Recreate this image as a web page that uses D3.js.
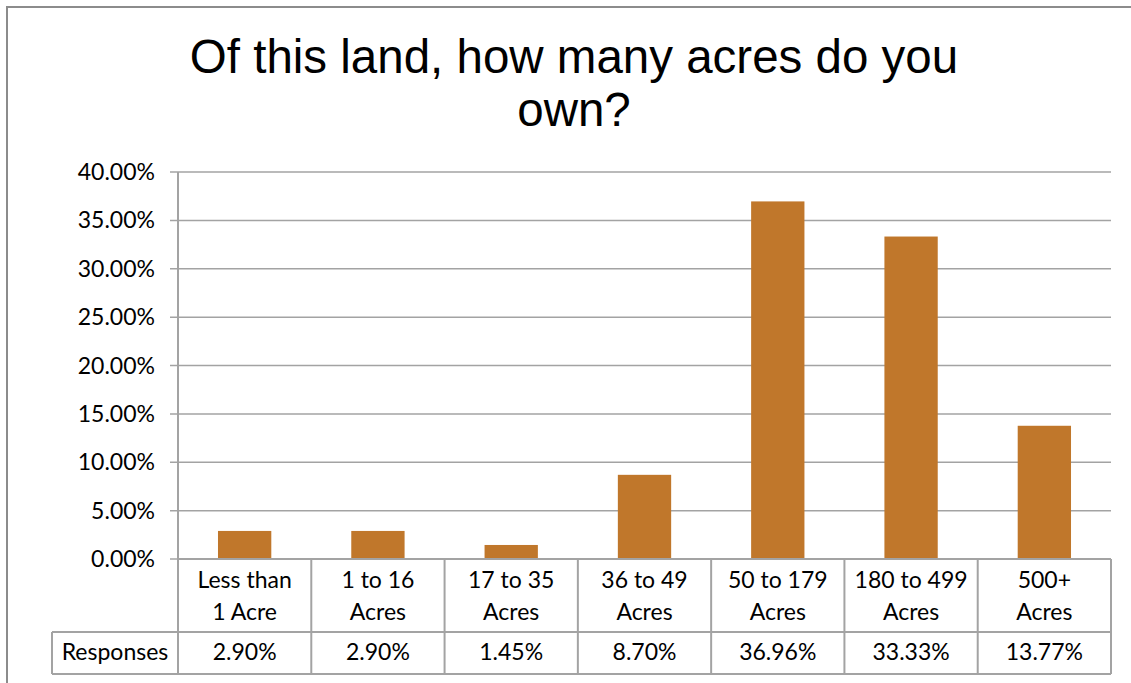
<!DOCTYPE html>
<html>
<head>
<meta charset="utf-8">
<script src="https://cdn.jsdelivr.net/npm/d3@7"></script>
<style>
  body { margin: 0; background: #fff; }
  svg { display: block; }
</style>
</head>
<body>
<div id="chart"></div>
<script>
// donnees
var title = ["Of this land, how many acres do you", "own?"];
var categories = [
  ["Less than", "1 Acre"],
  ["1 to 16", "Acres"],
  ["17 to 35", "Acres"],
  ["36 to 49", "Acres"],
  ["50 to 179", "Acres"],
  ["180 to 499", "Acres"],
  ["500+", "Acres"]
];
var responses = [2.90, 2.90, 1.45, 8.70, 36.96, 33.33, 13.77];
var seriesName = "Responses";
var yTicks = [0, 5, 10, 15, 20, 25, 30, 35, 40];

var width = 1131, height = 683;
var plotLeft = 178, plotRight = 1111, plotTop = 172, plotBottom = 559;
var row1 = 632, row2 = 674, labelLeft = 52;
var gridColor = "#a3a3a3", barColor = "#c0772b";
var font = "Lato, 'Open Sans', sans-serif";
var fontSize = 23;

var svg = d3.select("#chart").append("svg")
  .attr("width", width)
  .attr("height", height);

// cadre exterieur
svg.append("path")
  .attr("d", "M7," + height + " L7,7 L" + width + ",7")
  .attr("fill", "none")
  .attr("stroke", "#8c8c8c")
  .attr("stroke-width", 2);

// titre
svg.append("text")
  .attr("font-family", "'Liberation Sans', Arial, sans-serif")
  .attr("font-size", 47.5)
  .attr("text-anchor", "middle")
  .attr("fill", "#000")
  .selectAll("tspan").data(title).join("tspan")
    .attr("x", 574)
    .attr("y", (d, i) => 73 + i * 53)
    .text(d => d);

var x = d3.scaleBand()
  .domain(d3.range(categories.length))
  .range([plotLeft, plotRight])
  .paddingInner(0.6)
  .paddingOuter(0.3);
var xCell = d3.scaleBand()
  .domain(d3.range(categories.length))
  .range([plotLeft, plotRight]);
var y = d3.scaleLinear().domain([0, 40]).range([plotBottom, plotTop]);

// grille + etiquettes de l'axe
svg.append("g").selectAll("line").data(yTicks).join("line")
  .attr("x1", plotLeft - 8)
  .attr("x2", plotRight)
  .attr("y1", d => y(d))
  .attr("y2", d => y(d))
  .attr("stroke", gridColor)
  .attr("stroke-width", 1.5);

svg.append("g").selectAll("text").data(yTicks).join("text")
  .attr("font-family", font)
  .attr("font-size", fontSize)
  .attr("text-anchor", "end")
  .attr("fill", "#000")
  .attr("x", 155)
  .attr("y", d => y(d) + 8)
  .text(d => d.toFixed(2) + "%");

// barres
svg.append("g").selectAll("rect").data(responses).join("rect")
  .attr("x", (d, i) => x(i))
  .attr("width", x.bandwidth())
  .attr("y", d => y(d))
  .attr("height", d => plotBottom - y(d))
  .attr("fill", barColor);

// axe vertical
svg.append("line")
  .attr("x1", plotLeft).attr("x2", plotLeft)
  .attr("y1", plotTop).attr("y2", row2)
  .attr("stroke", gridColor)
  .attr("stroke-width", 2);

// tableau de donnees
var table = svg.append("g")
  .attr("fill", "none")
  .attr("stroke", gridColor)
  .attr("stroke-width", 2);
table.append("line").attr("x1", plotLeft).attr("x2", plotRight).attr("y1", plotBottom).attr("y2", plotBottom);
table.append("line").attr("x1", labelLeft).attr("x2", plotRight).attr("y1", row1).attr("y2", row1);
table.append("line").attr("x1", labelLeft).attr("x2", plotRight).attr("y1", row2).attr("y2", row2);
table.append("line").attr("x1", labelLeft).attr("x2", labelLeft).attr("y1", row1).attr("y2", row2);
table.selectAll(".sep").data(d3.range(categories.length)).join("line")
  .attr("class", "sep")
  .attr("x1", i => xCell(i) + xCell.bandwidth())
  .attr("x2", i => xCell(i) + xCell.bandwidth())
  .attr("y1", plotBottom)
  .attr("y2", row2);

svg.append("g").selectAll("text").data(categories).join("text")
  .attr("font-family", font)
  .attr("font-size", fontSize)
  .attr("text-anchor", "middle")
  .attr("fill", "#000")
  .each(function (d, i) {
    d3.select(this).selectAll("tspan").data(d).join("tspan")
      .attr("x", xCell(i) + xCell.bandwidth() / 2)
      .attr("y", (t, j) => 588 + j * 32)
      .text(t => t);
  });

svg.append("g").selectAll("text").data(responses).join("text")
  .attr("font-family", font)
  .attr("font-size", fontSize)
  .attr("text-anchor", "middle")
  .attr("fill", "#000")
  .attr("x", (d, i) => xCell(i) + xCell.bandwidth() / 2)
  .attr("y", 660)
  .text(d => d.toFixed(2) + "%");

svg.append("text")
  .attr("font-family", font)
  .attr("font-size", fontSize)
  .attr("text-anchor", "middle")
  .attr("fill", "#000")
  .attr("x", (labelLeft + plotLeft) / 2)
  .attr("y", 660)
  .text(seriesName);
</script>
</body>
</html>
